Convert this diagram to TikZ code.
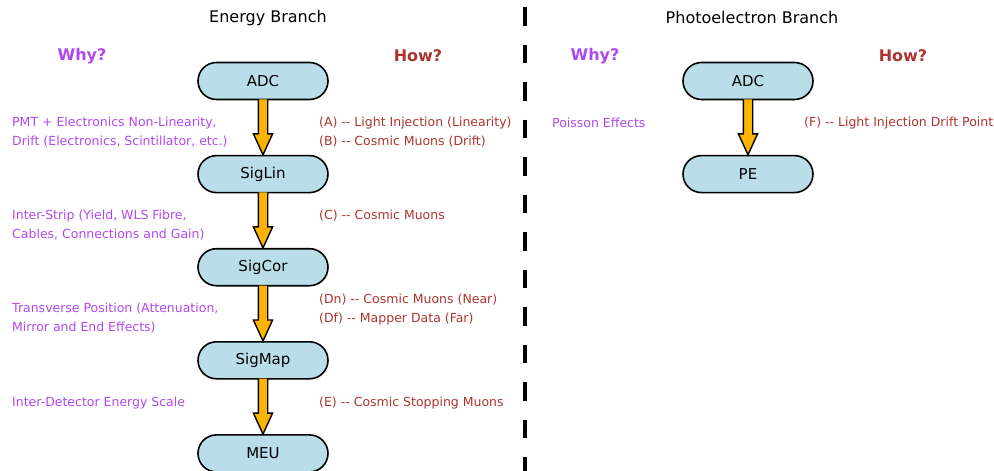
\documentclass[tikz,border=0pt]{standalone}
\usepackage{fontspec}
\usepackage{xcolor}
\usetikzlibrary{calc}
\usetikzlibrary{positioning}
\usetikzlibrary{shapes.misc}

\newfontfamily\flowfont{DejaVu Sans}
\definecolor{stagefill}{RGB}{185,222,234}
\definecolor{flowfill}{RGB}{255,180,0}
\definecolor{whycol}{RGB}{176,72,240}
\definecolor{howcol}{RGB}{172,52,48}

% two hyphens, kept apart so they stay two hyphens
\newcommand{\dd}{-\kern0pt-}

% fat yellow arrow from the bottom of one stage to the top of the next
\newcommand{\flowarrow}[2]{%
	\draw[flow] ($(#1.south)+(-4.7,-1)$) -- ($(#2.north)+(-4.7,-21)$)
		-- ($(#2.north)+(-9.6,-21)$) -- (#2.north)
		-- ($(#2.north)+(9.6,-21)$) -- ($(#2.north)+(4.7,-21)$)
		-- ($(#1.south)+(4.7,-1)$);}

\begin{document}
\begin{tikzpicture}[
					x=1pt, y=-1pt,
					font=\flowfont,
					node distance=54.5pt,
					stage/.style={rounded rectangle, draw, line width=1.6pt, fill=stagefill, minimum width=130pt, minimum height=37pt, inner sep=0pt, font=\flowfont\fontsize{15}{18}\selectfont},
					branch/.style={font=\flowfont\fontsize{16}{19}\selectfont},
					why/.style={text=whycol, font=\flowfont\bfseries\fontsize{16}{19}\selectfont},
					how/.style={why, text=howcol},
					reason/.style={anchor=west, align=left, inner sep=0pt, text=whycol, font=\flowfont\fontsize{12.5}{19}\selectfont},
					method/.style={reason, text=howcol},
					flow/.style={draw=black, line width=1.4pt, fill=flowfill, line join=miter},
					divider/.style={line width=3.6pt, dash pattern=on 18.5pt off 19pt}
				]
					\useasboundingbox (0,0) rectangle (994,471);

					% energy branch
					\node[branch] (etitle) at (268,18) {Energy Branch};
					\node[why] (ewhy) at (82,56) {Why?};
					\node[how] (ehow) at (418,56) {How?};
					\node[stage] (eadc) at (263,81) {ADC};
					\node[stage, below=of eadc] (siglin) {SigLin};
					\node[stage, below=of siglin] (sigcor) {SigCor};
					\node[stage, below=of sigcor] (sigmap) {SigMap};
					\node[stage, below=of sigmap] (meu) {MEU};
					\flowarrow{eadc}{siglin}
					\flowarrow{siglin}{sigcor}
					\flowarrow{sigcor}{sigmap}
					\flowarrow{sigmap}{meu}

					\node[reason] (rlin) at (12,132) {PMT + Electronics Non-Linearity,\\Drift (Electronics, Scintillator, etc.)};
					\node[reason] (rcor) at (12,225.5) {Inter-Strip (Yield, WLS Fibre,\\Cables, Connections and Gain)};
					\node[reason] (rmap) at (12,318.5) {Transverse Position (Attenuation,\\Mirror and End Effects)};
					\node[reason] (rmeu) at (12,403) {Inter-Detector Energy Scale};
					\node[method] (mlin) at (319,132) {(A) \dd{} Light Injection (Linearity)\\(B) \dd{} Cosmic Muons (Drift)};
					\node[method] (mcor) at (319,216) {(C) \dd{} Cosmic Muons};
					\node[method] (mmap) at (319,309.5) {(Dn) \dd{} Cosmic Muons (Near)\\(Df) \dd{} Mapper Data (Far)};
					\node[method] (mmeu) at (319,403) {(E) \dd{} Cosmic Stopping Muons};

					\draw[divider] (525,7) -- (525,471);

					% photoelectron branch
					\node[branch] (ptitle) at (752,18) {Photoelectron Branch};
					\node[why] (pwhy) at (595,56) {Why?};
					\node[how] (phow) at (903,56) {How?};
					\node[stage] (padc) at (748,81) {ADC};
					\node[stage, below=of padc] (pe) {PE};
					\flowarrow{padc}{pe}
					\node[reason] (rpe) at (552,123) {Poisson Effects};
					\node[method] (mpe) at (804,123) {(F) \dd{} Light Injection Drift Point};
				\end{tikzpicture}
\end{document}
